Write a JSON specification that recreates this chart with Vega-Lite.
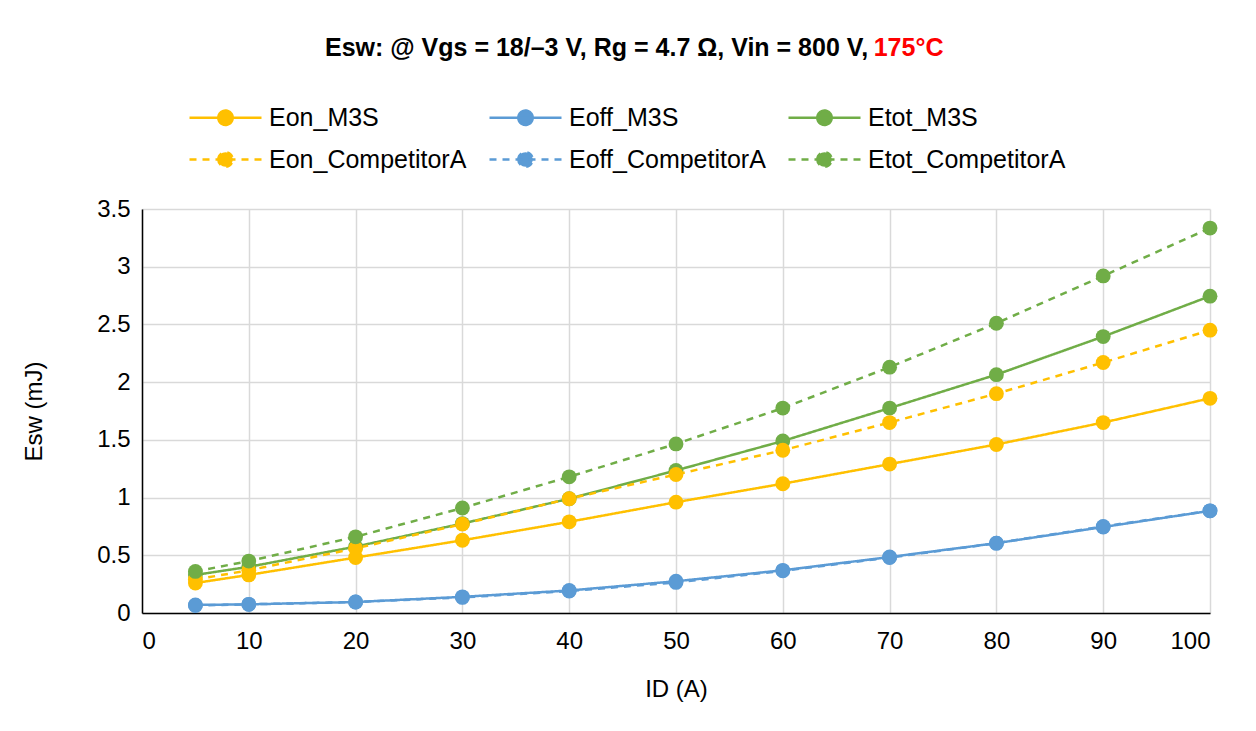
{
  "$schema": "https://vega.github.io/schema/vega-lite/v6.json",
  "width": 1068,
  "height": 404,
  "autosize": {"type": "none"},
  "padding": {"left": 142, "top": 209, "right": 46, "bottom": 118},
  "background": "#ffffff",
  "title": {
    "text": "Esw: @ Vgs = 18/–3 V, Rg = 4.7 Ω, Vin = 800 V,",
    "subtitle": "\u200b\u00a0\u00a0\u00a0\u00a0\u00a0\u00a0\u00a0\u00a0\u00a0\u00a0\u00a0\u00a0\u00a0\u00a0\u00a0\u00a0\u00a0\u00a0\u00a0\u00a0\u00a0\u00a0\u00a0\u00a0\u00a0\u00a0\u00a0\u00a0\u00a0\u00a0\u00a0\u00a0\u00a0\u00a0\u00a0\u00a0\u00a0\u00a0\u00a0\u00a0\u00a0\u00a0\u00a0\u00a0\u00a0\u00a0\u00a0\u00a0\u00a0\u00a0\u00a0\u00a0\u00a0\u00a0\u00a0\u00a0\u00a0\u00a0\u00a0\u00a0\u00a0\u00a0\u00a0\u00a0\u00a0\u00a0\u00a0\u00a0\u00a0\u00a0\u00a0\u00a0\u00a0\u00a0\u00a0\u00a0\u00a0\u00a0\u00a0175°C",
    "anchor": "start",
    "frame": "group",
    "dx": 183,
    "offset": -2,
    "font": "Liberation Sans",
    "fontSize": 25,
    "fontWeight": "bold",
    "color": "#000000",
    "subtitleFont": "Liberation Sans",
    "subtitleFontSize": 25,
    "subtitleFontWeight": "bold",
    "subtitleColor": "#FF0000",
    "subtitlePadding": -25
  },
  "data": {
    "values": [
      {"id": 5, "series": "Eon_M3S", "esw": 0.26},
      {"id": 10, "series": "Eon_M3S", "esw": 0.33},
      {"id": 20, "series": "Eon_M3S", "esw": 0.48},
      {"id": 30, "series": "Eon_M3S", "esw": 0.63},
      {"id": 40, "series": "Eon_M3S", "esw": 0.79},
      {"id": 50, "series": "Eon_M3S", "esw": 0.96},
      {"id": 60, "series": "Eon_M3S", "esw": 1.12},
      {"id": 70, "series": "Eon_M3S", "esw": 1.29},
      {"id": 80, "series": "Eon_M3S", "esw": 1.46},
      {"id": 90, "series": "Eon_M3S", "esw": 1.65},
      {"id": 100, "series": "Eon_M3S", "esw": 1.86},
      {"id": 5, "series": "Eoff_M3S", "esw": 0.07},
      {"id": 10, "series": "Eoff_M3S", "esw": 0.075},
      {"id": 20, "series": "Eoff_M3S", "esw": 0.095},
      {"id": 30, "series": "Eoff_M3S", "esw": 0.14},
      {"id": 40, "series": "Eoff_M3S", "esw": 0.195},
      {"id": 50, "series": "Eoff_M3S", "esw": 0.275},
      {"id": 60, "series": "Eoff_M3S", "esw": 0.37},
      {"id": 70, "series": "Eoff_M3S", "esw": 0.485},
      {"id": 80, "series": "Eoff_M3S", "esw": 0.605},
      {"id": 90, "series": "Eoff_M3S", "esw": 0.745},
      {"id": 100, "series": "Eoff_M3S", "esw": 0.885},
      {"id": 5, "series": "Etot_M3S", "esw": 0.33},
      {"id": 10, "series": "Etot_M3S", "esw": 0.40},
      {"id": 20, "series": "Etot_M3S", "esw": 0.575},
      {"id": 30, "series": "Etot_M3S", "esw": 0.775},
      {"id": 40, "series": "Etot_M3S", "esw": 0.99},
      {"id": 50, "series": "Etot_M3S", "esw": 1.235},
      {"id": 60, "series": "Etot_M3S", "esw": 1.49},
      {"id": 70, "series": "Etot_M3S", "esw": 1.775},
      {"id": 80, "series": "Etot_M3S", "esw": 2.065},
      {"id": 90, "series": "Etot_M3S", "esw": 2.395},
      {"id": 100, "series": "Etot_M3S", "esw": 2.745},
      {"id": 5, "series": "Eon_CompetitorA", "esw": 0.29},
      {"id": 10, "series": "Eon_CompetitorA", "esw": 0.37},
      {"id": 20, "series": "Eon_CompetitorA", "esw": 0.56},
      {"id": 30, "series": "Eon_CompetitorA", "esw": 0.77},
      {"id": 40, "series": "Eon_CompetitorA", "esw": 0.99},
      {"id": 50, "series": "Eon_CompetitorA", "esw": 1.2},
      {"id": 60, "series": "Eon_CompetitorA", "esw": 1.41},
      {"id": 70, "series": "Eon_CompetitorA", "esw": 1.65},
      {"id": 80, "series": "Eon_CompetitorA", "esw": 1.9},
      {"id": 90, "series": "Eon_CompetitorA", "esw": 2.17},
      {"id": 100, "series": "Eon_CompetitorA", "esw": 2.45},
      {"id": 5, "series": "Eoff_CompetitorA", "esw": 0.065},
      {"id": 10, "series": "Eoff_CompetitorA", "esw": 0.075},
      {"id": 20, "series": "Eoff_CompetitorA", "esw": 0.095},
      {"id": 30, "series": "Eoff_CompetitorA", "esw": 0.135},
      {"id": 40, "series": "Eoff_CompetitorA", "esw": 0.19},
      {"id": 50, "series": "Eoff_CompetitorA", "esw": 0.265},
      {"id": 60, "series": "Eoff_CompetitorA", "esw": 0.365},
      {"id": 70, "series": "Eoff_CompetitorA", "esw": 0.48},
      {"id": 80, "series": "Eoff_CompetitorA", "esw": 0.605},
      {"id": 90, "series": "Eoff_CompetitorA", "esw": 0.75},
      {"id": 100, "series": "Eoff_CompetitorA", "esw": 0.885},
      {"id": 5, "series": "Etot_CompetitorA", "esw": 0.36},
      {"id": 10, "series": "Etot_CompetitorA", "esw": 0.45},
      {"id": 20, "series": "Etot_CompetitorA", "esw": 0.66},
      {"id": 30, "series": "Etot_CompetitorA", "esw": 0.91},
      {"id": 40, "series": "Etot_CompetitorA", "esw": 1.18},
      {"id": 50, "series": "Etot_CompetitorA", "esw": 1.465},
      {"id": 60, "series": "Etot_CompetitorA", "esw": 1.775},
      {"id": 70, "series": "Etot_CompetitorA", "esw": 2.13},
      {"id": 80, "series": "Etot_CompetitorA", "esw": 2.51},
      {"id": 90, "series": "Etot_CompetitorA", "esw": 2.92},
      {"id": 100, "series": "Etot_CompetitorA", "esw": 3.335}
    ]
  },
  "encoding": {
    "x": {
      "field": "id",
      "type": "quantitative",
      "scale": {"domain": [0, 100], "nice": false, "zero": false},
      "axis": {
        "values": [0, 10, 20, 30, 40, 50, 60, 70, 80, 90, 100],
        "title": "ID (A)",
        "grid": true,
        "ticks": false,
        "labelPadding": 16,
        "titlePadding": 24
      }
    },
    "y": {
      "field": "esw",
      "type": "quantitative",
      "scale": {"domain": [0, 3.5], "nice": false},
      "axis": {
        "values": [0, 0.5, 1, 1.5, 2, 2.5, 3, 3.5],
        "format": "~f",
        "title": "Esw (mJ)",
        "grid": true,
        "ticks": false,
        "labelPadding": 12,
        "titlePadding": 50
      }
    },
    "color": {
      "field": "series",
      "type": "nominal",
      "scale": {
        "domain": ["Eon_M3S", "Eoff_M3S", "Etot_M3S", "Eon_CompetitorA", "Eoff_CompetitorA", "Etot_CompetitorA"],
        "range": ["#FFC000", "#5B9BD5", "#70AD47", "#FFC000", "#5B9BD5", "#70AD47"]
      },
      "legend": {
        "title": null,
        "orient": "top",
        "columns": 3,
        "padding": 46,
        "offset": -10,
        "columnPadding": 21,
        "rowPadding": 16,
        "clipHeight": 25,
        "labelOffset": 6,
        "symbolType": "M-1,0L1,0M-0.2,0A0.2,0.2,0,1,1,0.2,0A0.2,0.2,0,1,1,-0.2,0Z",
        "symbolSize": 5184,
        "symbolStrokeWidth": 2.5,
        "labelFont": "Liberation Sans",
        "labelFontSize": 25,
        "labelColor": "#000000",
        "labelLimit": 400,
        "encode": {
          "symbols": {
            "update": {
              "fill": {"scale": "color", "field": "value"},
              "stroke": {"scale": "color", "field": "value"},
              "opacity": {"value": 1}
            }
          }
        }
      }
    }
  },
  "layer": [
    {
      "mark": {"type": "line", "strokeWidth": 2.5},
      "encoding": {
        "strokeDash": {
          "field": "series",
          "type": "nominal",
          "scale": {
            "domain": ["Eon_M3S", "Eoff_M3S", "Etot_M3S", "Eon_CompetitorA", "Eoff_CompetitorA", "Etot_CompetitorA"],
            "range": [[1, 0], [1, 0], [1, 0], [7, 6], [7, 6], [7, 6]]
          },
          "legend": {"title": null}
        }
      }
    },
    {
      "mark": {"type": "point", "filled": true, "size": 220, "opacity": 1, "shape": "circle"}
    }
  ],
  "config": {
    "font": "Liberation Sans",
    "view": {"stroke": null},
    "axis": {
      "labelFont": "Liberation Sans",
      "labelFontSize": 24,
      "labelColor": "#000000",
      "titleFont": "Liberation Sans",
      "titleFontSize": 24,
      "titleFontWeight": "normal",
      "titleColor": "#000000",
      "gridColor": "#D9D9D9",
      "gridWidth": 1.5,
      "domainColor": "#000000",
      "domainWidth": 1.5
    }
  }
}
